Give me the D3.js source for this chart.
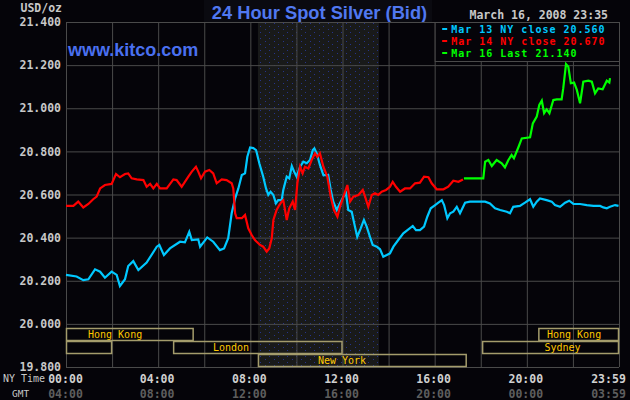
<!DOCTYPE html>
<html>
<head>
<meta charset="utf-8">
<script src="https://cdn.jsdelivr.net/npm/d3@7"></script>
<style>
    html, body { margin: 0; padding: 0; background: #050409; }
    #chart { width: 630px; height: 400px; overflow: hidden; }
    .mono { font-family: "DejaVu Sans Mono", monospace; font-weight: bold; }
    .axis .domain { display: none; }
</style>
</head>
<body>
<div id="chart"></div>
<script>
"use strict";

// [hour (NY time), price]
const mar13 = [
    [0, 20.227], [0.46, 20.220], [0.75, 20.203], [0.97, 20.207], [1.26, 20.253], [1.48, 20.242],
    [1.69, 20.214], [1.98, 20.242], [2.20, 20.227], [2.34, 20.175], [2.56, 20.207], [2.70, 20.268],
    [2.92, 20.291], [3.14, 20.250], [3.50, 20.284], [3.94, 20.358], [4.05, 20.366], [4.25, 20.319],
    [4.51, 20.350], [4.95, 20.381], [5.16, 20.378], [5.35, 20.427], [5.46, 20.389], [5.74, 20.392],
    [5.82, 20.358], [6.13, 20.401], [6.39, 20.381], [6.68, 20.342], [6.86, 20.350], [7.04, 20.397],
    [7.19, 20.513], [7.34, 20.582], [7.48, 20.628], [7.63, 20.690], [7.77, 20.698], [7.87, 20.775],
    [7.99, 20.818], [8.13, 20.815], [8.25, 20.806], [8.39, 20.745], [8.56, 20.682], [8.68, 20.628],
    [8.78, 20.598], [8.88, 20.613], [9.00, 20.598], [9.11, 20.559], [9.21, 20.574], [9.36, 20.574],
    [9.43, 20.621], [9.58, 20.683], [9.69, 20.675], [9.80, 20.732], [9.90, 20.706], [10.01, 20.683],
    [10.16, 20.729], [10.30, 20.752], [10.45, 20.745], [10.59, 20.760], [10.71, 20.806], [10.78, 20.814],
    [10.88, 20.791], [11.02, 20.737], [11.17, 20.690], [11.28, 20.690], [11.38, 20.690], [11.49, 20.621],
    [11.60, 20.567], [11.75, 20.528], [11.89, 20.559], [12.04, 20.590], [12.15, 20.606], [12.25, 20.528],
    [12.40, 20.520], [12.54, 20.451], [12.64, 20.404], [12.79, 20.443], [12.93, 20.482], [13.05, 20.451],
    [13.19, 20.404], [13.31, 20.366], [13.49, 20.358], [13.63, 20.346], [13.77, 20.311], [13.92, 20.319],
    [14.06, 20.327], [14.21, 20.358], [14.42, 20.389], [14.64, 20.420], [14.86, 20.438], [15.05, 20.454],
    [15.19, 20.435], [15.36, 20.435], [15.54, 20.451], [15.68, 20.497], [15.83, 20.536], [16.02, 20.551],
    [16.16, 20.562], [16.31, 20.574], [16.41, 20.551], [16.55, 20.490], [16.67, 20.513], [16.81, 20.520],
    [16.96, 20.543], [17.10, 20.513], [17.32, 20.562], [17.53, 20.567], [17.97, 20.567], [18.19, 20.567],
    [18.40, 20.559], [18.62, 20.536], [18.84, 20.528], [19.13, 20.520], [19.27, 20.513], [19.41, 20.543],
    [19.70, 20.547], [19.92, 20.562], [20.14, 20.578], [20.28, 20.543], [20.43, 20.567], [20.57, 20.582],
    [20.86, 20.574], [21.08, 20.567], [21.22, 20.551], [21.44, 20.543], [21.66, 20.562], [21.84, 20.571],
    [22.02, 20.556], [22.31, 20.556], [22.60, 20.551], [22.89, 20.547], [23.18, 20.547], [23.32, 20.540],
    [23.47, 20.536], [23.61, 20.543], [23.83, 20.551], [23.98, 20.547]
];

const mar14 = [
    [0, 20.547], [0.32, 20.547], [0.53, 20.567], [0.75, 20.540], [0.97, 20.556], [1.18, 20.578],
    [1.33, 20.590], [1.48, 20.628], [1.69, 20.644], [1.98, 20.649], [2.17, 20.695], [2.34, 20.680],
    [2.56, 20.695], [2.70, 20.698], [2.85, 20.675], [3.07, 20.670], [3.36, 20.667], [3.50, 20.636],
    [3.65, 20.649], [3.79, 20.628], [3.94, 20.649], [4.08, 20.628], [4.37, 20.628], [4.66, 20.670],
    [4.80, 20.667], [5.02, 20.636], [5.16, 20.659], [5.31, 20.683], [5.46, 20.706], [5.64, 20.729],
    [5.74, 20.706], [5.86, 20.675], [6.03, 20.706], [6.22, 20.714], [6.39, 20.698], [6.54, 20.652],
    [6.76, 20.670], [6.97, 20.667], [7.19, 20.652], [7.26, 20.628], [7.34, 20.513], [7.41, 20.490],
    [7.55, 20.490], [7.63, 20.490], [7.77, 20.505], [7.91, 20.443], [8.06, 20.412], [8.20, 20.389],
    [8.42, 20.366], [8.56, 20.358], [8.71, 20.335], [8.82, 20.350], [8.93, 20.397], [9.00, 20.482],
    [9.14, 20.528], [9.26, 20.551], [9.36, 20.567], [9.43, 20.574], [9.58, 20.482], [9.69, 20.536],
    [9.84, 20.567], [9.94, 20.528], [10.04, 20.652], [10.16, 20.729], [10.27, 20.698], [10.37, 20.729],
    [10.52, 20.721], [10.66, 20.760], [10.81, 20.791], [10.91, 20.775], [11.02, 20.791], [11.17, 20.729],
    [11.34, 20.683], [11.49, 20.590], [11.63, 20.528], [11.78, 20.497], [11.89, 20.543], [12.04, 20.590],
    [12.21, 20.644], [12.33, 20.567], [12.47, 20.590], [12.69, 20.598], [12.88, 20.621], [12.98, 20.590],
    [13.12, 20.543], [13.27, 20.598], [13.41, 20.606], [13.55, 20.598], [13.70, 20.613], [13.89, 20.621],
    [14.06, 20.636], [14.18, 20.659], [14.32, 20.636], [14.50, 20.613], [14.71, 20.628], [14.93, 20.628],
    [15.15, 20.652], [15.36, 20.655], [15.54, 20.683], [15.73, 20.680], [15.87, 20.652], [16.09, 20.624],
    [16.38, 20.624], [16.59, 20.636], [16.81, 20.664], [17.03, 20.659], [17.23, 20.670]
];

const mar16 = [
    [17.27, 20.675], [18.11, 20.675], [18.19, 20.752], [18.33, 20.760], [18.48, 20.732], [18.69, 20.760],
    [18.91, 20.745], [19.05, 20.726], [19.20, 20.760], [19.34, 20.783], [19.44, 20.768], [19.63, 20.818],
    [19.78, 20.860], [20.14, 20.865], [20.26, 20.930], [20.43, 20.961], [20.54, 21.015], [20.65, 21.035],
    [20.75, 20.977], [20.86, 20.995], [20.98, 20.977], [21.15, 21.038], [21.30, 21.041], [21.51, 21.041],
    [21.58, 21.092], [21.70, 21.205], [21.80, 21.193], [21.91, 21.116], [22.05, 21.119], [22.17, 21.085],
    [22.31, 21.023], [22.45, 21.123], [22.67, 21.128], [22.82, 21.123], [22.96, 21.069], [23.10, 21.092],
    [23.29, 21.088], [23.47, 21.128], [23.58, 21.119], [23.61, 21.140]
];

const seriesNames = ["Mar 13 NY close 20.560", "Mar 14 NY close 20.670", "Mar 16 Last 21.140"];
const priceTicks = [19.8, 20.0, 20.2, 20.4, 20.6, 20.8, 21.0, 21.2, 21.4];
const gridHours = [0, 2, 4, 6, 8, 10, 12, 14, 16, 18, 20, 22, 24];
const labelHours = [0, 4, 8, 12, 16, 20, 24];
const nyTimeLabels = ["00:00", "04:00", "08:00", "12:00", "16:00", "20:00", "23:59"];
const gmtLabels = ["04:00", "08:00", "12:00", "16:00", "20:00", "00:00", "03:59"];

// market sessions: name, row, start hour, end hour, label hour
const sessionNames = ["Hong Kong", "", "London", "New York", "Sydney", "Hong Kong"];
const sessionRows = [0, 1, 1, 2, 1, 0];
const sessionStart = [0, 0, 4.65, 8.33, 18.06, 20.5];
const sessionEnd = [5.54, 2.0, 12.0, 17.39, 24, 24];
const sessionLabelAt = [2.13, 0, 7.16, 11.98, 21.55, 22.05];

// shaded COMEX floor hours
const floorHours = [8.33, 13.58];

function draw() {
    const colors = ["#00c8ff", "#ff0000", "#00ff00"];
    const gridColor = "#4a4a4a";

    let margin = { top: 22, right: 11, bottom: 33, left: 66 };
    let width = 630 - margin.left - margin.right;
    let height = 400 - margin.top - margin.bottom;

    let xScale = d3.scaleLinear().domain([0, 24]).range([0, width]);
    let yScale = d3.scaleLinear().domain([19.8, 21.4]).range([height, 0]);

    let root = d3.select("#chart").append("svg")
        .attr("width", 630)
        .attr("height", 400);

    root.append("rect")
        .attr("width", 630)
        .attr("height", 400)
        .attr("fill", "#050409");

    // dotted pattern for the shaded hours
    let pattern = root.append("defs").append("pattern")
        .attr("id", "dots")
        .attr("width", 9)
        .attr("height", 6)
        .attr("patternUnits", "userSpaceOnUse");
    pattern.append("rect").attr("width", 9).attr("height", 6).attr("fill", "#191a1a");
    pattern.append("rect").attr("x", 1).attr("y", 1).attr("width", 1).attr("height", 1).attr("fill", "#26348a");
    pattern.append("rect").attr("x", 5).attr("y", 4).attr("width", 1).attr("height", 1).attr("fill", "#26348a");

    // title backdrop
    root.append("rect")
        .attr("x", 204)
        .attr("y", 0)
        .attr("width", 228)
        .attr("height", 22)
        .attr("fill", "#0a0a10");

    root.append("text")
        .attr("x", 319.5)
        .attr("y", 19)
        .attr("text-anchor", "middle")
        .style("font-family", "'Liberation Sans', Arial, sans-serif")
        .style("font-weight", "bold")
        .style("font-size", "18.3px")
        .style("fill", "#5078f0")
        .text("24 Hour Spot Silver (Bid)");

    root.append("text")
        .attr("class", "mono")
        .attr("x", 608)
        .attr("y", 19)
        .attr("text-anchor", "end")
        .style("font-size", "11.5px")
        .style("fill", "#c8c8c8")
        .text("March 16, 2008 23:35");

    root.append("text")
        .attr("class", "mono")
        .attr("x", 62)
        .attr("y", 12)
        .attr("text-anchor", "end")
        .style("font-size", "11.5px")
        .style("fill", "#c8c8c8")
        .text("USD/oz");

    let svg = root.append("g")
        .attr("transform", `translate(${margin.left},${margin.top})`);

    // shaded floor trading hours
    svg.append("rect")
        .attr("x", xScale(floorHours[0]))
        .attr("y", 1)
        .attr("width", xScale(floorHours[1]) - xScale(floorHours[0]))
        .attr("height", height - 1)
        .attr("fill", "url(#dots)");

    // grid: vertical
    svg.append("g")
        .attr("class", "axis")
        .attr("transform", `translate(0,${height})`)
        .call(d3.axisBottom(xScale)
            .tickValues(gridHours)
            .tickSizeInner(-height)
            .tickSizeOuter(0)
            .tickFormat(""))
        .selectAll("line")
        .attr("stroke", gridColor);

    // grid: horizontal + price labels
    let yAxis = svg.append("g")
        .attr("class", "axis mono")
        .call(d3.axisLeft(yScale)
            .tickValues(priceTicks)
            .tickSizeInner(-width)
            .tickSizeOuter(0)
            .tickPadding(5)
            .tickFormat(d3.format(".3f")));
    yAxis.selectAll("line").attr("stroke", gridColor);
    yAxis.selectAll("text")
        .style("font-size", "11.5px")
        .style("font-family", "'DejaVu Sans Mono', monospace")
        .style("font-weight", "bold")
        .attr("fill", "#c8c8c8");

    // time labels, NY and GMT
    function timeAxis(labels, offset, color) {
        let g = svg.append("g")
            .attr("class", "axis mono")
            .attr("transform", `translate(0,${height + offset})`)
            .call(d3.axisBottom(xScale)
                .tickValues(labelHours)
                .tickSize(0)
                .tickPadding(0)
                .tickFormat((d, i) => labels[i]));
        g.selectAll("text")
            .style("font-size", "11.5px")
            .style("font-family", "'DejaVu Sans Mono', monospace")
            .style("font-weight", "bold")
            .attr("fill", color)
            .attr("dy", "0")
            .attr("x", (d, i) => i === 0 ? -1 : (i === labelHours.length - 1 ? -11 : -1.5));
    }
    timeAxis(nyTimeLabels, 15.5, "#d0d0d0");
    timeAxis(gmtLabels, 30.5, "#5e5e5e");

    root.append("text")
        .attr("x", 3)
        .attr("y", 382)
        .style("font-family", "'DejaVu Sans Mono', monospace")
        .style("font-size", "10px")
        .style("fill", "#c8c8c8")
        .text("NY Time");

    root.append("text")
        .attr("x", 12)
        .attr("y", 397)
        .style("font-family", "'DejaVu Sans Mono', monospace")
        .style("font-size", "9.5px")
        .style("fill", "#c8c8c8")
        .text("GMT");

    // market session boxes
    let rowH = 13;
    let sessions = svg.selectAll(".session")
        .data(sessionNames)
        .enter()
        .append("g")
        .attr("class", "session");

    sessions.append("rect")
        .attr("x", (d, i) => xScale(sessionStart[i]) + 0.5)
        .attr("y", (d, i) => height - (3 - sessionRows[i]) * rowH + 0.5)
        .attr("width", (d, i) => xScale(sessionEnd[i]) - xScale(sessionStart[i]) - 1)
        .attr("height", rowH - 1)
        .attr("fill", "none")
        .attr("stroke", "#a49c6c")
        .attr("stroke-width", 1.5);

    sessions.append("text")
        .attr("x", (d, i) => xScale(sessionLabelAt[i]))
        .attr("y", (d, i) => height - (3 - sessionRows[i]) * rowH + 9.5)
        .attr("text-anchor", "middle")
        .style("font-family", "'DejaVu Sans Mono', monospace")
        .style("font-size", "10px")
        .style("fill", "#ffc800")
        .text(d => d);

    // price lines
    let line = d3.line()
        .x(d => xScale(d[0]))
        .y(d => yScale(d[1]));

    [mar13, mar14, mar16].forEach((series, k) => {
        svg.append("path")
            .datum(series)
            .attr("d", line)
            .attr("fill", "none")
            .attr("stroke", colors[k])
            .attr("stroke-width", 2.2)
            .attr("stroke-linejoin", "miter");
    });

    // legend
    let legendX = xScale(16);
    let legend = svg.append("g")
        .attr("transform", `translate(${legendX},0)`);

    legend.append("rect")
        .attr("x", 0.5)
        .attr("y", 0.5)
        .attr("width", width - legendX)
        .attr("height", 39)
        .attr("fill", "#050409")
        .attr("stroke", gridColor);

    let entries = legend.selectAll(".legend")
        .data(seriesNames)
        .enter()
        .append("g")
        .attr("class", "legend")
        .attr("transform", (d, i) => `translate(0,${7 + i * 12})`);

    entries.append("rect")
        .attr("x", 7.5)
        .attr("y", -1)
        .attr("width", 5)
        .attr("height", 2)
        .attr("fill", (d, i) => colors[i]);

    entries.append("text")
        .attr("class", "mono")
        .attr("x", 16.5)
        .attr("y", 4)
        .style("font-size", "10px")
        .style("letter-spacing", "1px")
        .style("fill", (d, i) => colors[i])
        .text(d => d);

    root.append("text")
        .attr("x", 68)
        .attr("y", 56)
        .style("font-family", "'Liberation Sans', Arial, sans-serif")
        .style("font-weight", "bold")
        .style("font-size", "18px")
        .style("fill", "#4a70f0")
        .text("www.kitco.com");
}

draw();
</script>
</body>
</html>
